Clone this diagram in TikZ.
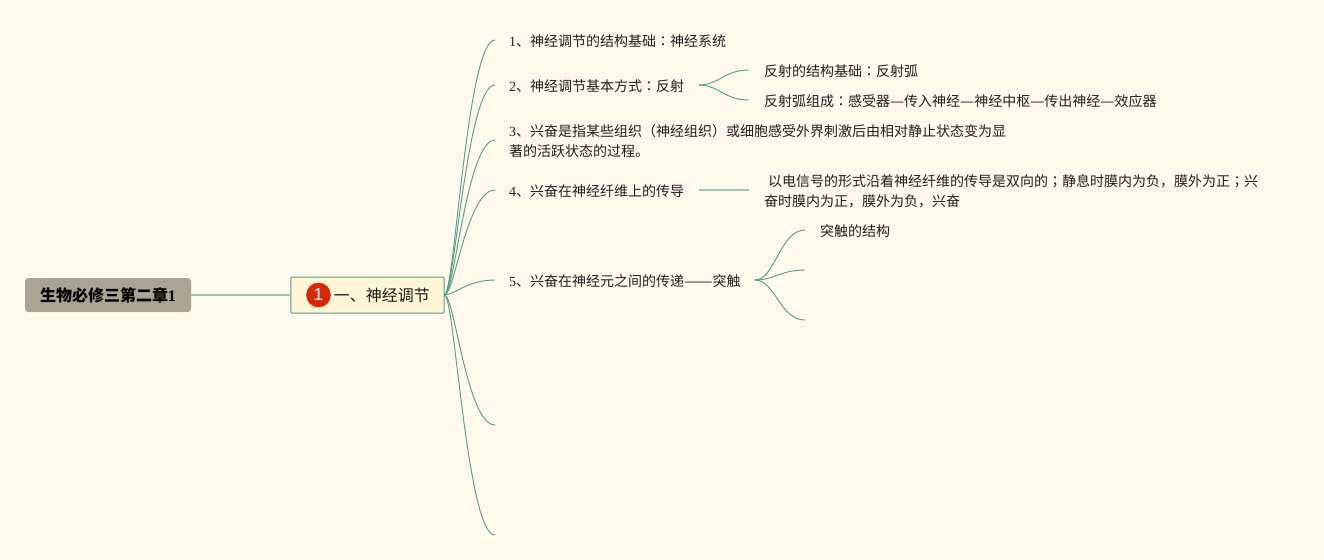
\documentclass[tikz,border=0pt]{standalone}
\usepackage{fontspec}
\usetikzlibrary{calc}
\setmainfont{Liberation Serif}
\newfontfamily\cjk{Noto Sans CJK SC}
\newfontfamily\cjktc{Noto Sans CJK TC}
\newfontfamily\badgefont{Liberation Sans}
\newfontfamily\dashone[FakeStretch=1.13]{Noto Sans CJK SC}
\newfontfamily\dashtwo[FakeStretch=1.22]{Noto Sans CJK SC}
\newcommand{\zc}[1]{{\cjktc #1}}
\newcommand{\dsh}{{\dashone —}}
\newcommand{\dbl}{{\dashtwo ——}}
\definecolor{bgc}{HTML}{FFF9ED}
\definecolor{rootc}{HTML}{A8A595}
\definecolor{topicc}{HTML}{FFF6D5}
\definecolor{linec}{HTML}{5B9A88}
\definecolor{linel}{HTML}{9CC4B0}
\definecolor{badgec}{HTML}{D42A0A}
\tikzset{
  x=0.75pt,y=-0.75pt,
  txt/.style={anchor=west,inner sep=0pt,outer sep=0pt,font=\fontsize{10.5pt}{15pt}\selectfont\cjk,align=left,text=black!88},
  rootbox/.style={draw=none,fill=rootc,rounded corners=2.5pt,inner sep=0pt,minimum width=124.5pt,minimum height=25.5pt,font=\fontsize{12pt}{14pt}\selectfont\bfseries},
  topicbox/.style={draw=linec,line width=0.75pt,fill=topicc,rounded corners=0.75pt,inner sep=0pt,minimum width=115pt,minimum height=27pt},
  conn/.style={draw=linec,line width=0.7pt},
  connl/.style={draw=linel,line width=1.2pt},
  badge/.style={circle,fill=badgec,draw=none,inner sep=0pt,minimum size=18.5pt,text=white,font=\fontsize{13pt}{14pt}\selectfont\badgefont}
}
\begin{document}
\begin{tikzpicture}
\useasboundingbox (0,0) rectangle (1324,560);
\fill[bgc] (0,0) rectangle (1324,560);
% central nodes
\node[rootbox] (root) at (108,295) {{\bfseries\cjk 生物必修三第二章}1};
\node[topicbox] (topic) at (367.5,295) {};
\node[badge] (badge) at (318.5,295) {1};
\node[anchor=west,inner sep=0pt,font=\fontsize{12pt}{14pt}\selectfont\cjk,text=black!90] (topict) at (333.5,295.5) {一、神经调节};
\draw[connl] (root.east) -- (topic.west);
% branch labels
\node[txt] (a1) at (509,41) {{\rmfamily 1}、神经调节的结构基础\zc{：}神经系统};
\node[txt] (a2) at (509,86) {{\rmfamily 2}、神经调节基本方式\zc{：}反射};
\node[txt] (a3) at (509,141) {{\rmfamily 3}、兴奋是指某些组织（神经组织）或细胞感受外界刺激后由相对静止状态变为显\\著的活跃状态的过程。};
\node[txt] (a4) at (509,191) {{\rmfamily 4}、兴奋在神经纤维上的传导};
\node[txt] (a5) at (509,281) {{\rmfamily 5}、兴奋在神经元之间的传递\dbl 突触};
\node[txt] (b1) at (764,71) {反射的结构基础\zc{：}反射弧};
\node[txt] (b2) at (764,101) {反射弧组成\zc{：}感受器\dsh 传入神经\dsh 神经中枢\dsh 传出神经\dsh 效应器};
\node[txt] (c1) at (764,191) {\hspace{3pt}以电信号的形式沿着神经纤维的传导是双向的\zc{；}静息时膜内为负，膜外为正\zc{；}兴\\奋时膜内为正，膜外为负，兴奋};
\node[txt] (d1) at (820,231) {突触的结构};
% connector ends
\coordinate (e1) at (495,40);
\coordinate (e2) at (495,85);
\coordinate (e3) at (495,140);
\coordinate (e4) at (495,190);
\coordinate (e5) at (495,280);
\coordinate (e6) at (495,425);
\coordinate (e7) at (495,535);
\coordinate (s2) at (699,85);
\coordinate (s2a) at (749,70);
\coordinate (s2b) at (749,100);
\coordinate (s4) at (699,190);
\coordinate (s4a) at (749,190);
\coordinate (s5) at (755,280);
\coordinate (s5a) at (805,230);
\coordinate (s5b) at (805,270);
\coordinate (s5c) at (805,320);
\coordinate (hub) at (444.5,295);
% curved connectors from the topic
\foreach \e in {e1,e2,e3,e4,e5,e6,e7}{
  \draw[conn] (hub) .. controls ($(hub)+(10,0)$) and ($(\e)+(-28,0)$) .. (\e);
}
\draw[conn] (s2) .. controls ($(s2)+(20,0)$) and ($(s2a)+(-25,0)$) .. (s2a);
\draw[conn] (s2) .. controls ($(s2)+(20,0)$) and ($(s2b)+(-25,0)$) .. (s2b);
\draw[connl] (s4) -- (s4a);
\draw[conn] (s5) .. controls ($(s5)+(20,0)$) and ($(s5a)+(-25,0)$) .. (s5a);
\draw[conn] (s5) .. controls ($(s5)+(20,0)$) and ($(s5b)+(-25,0)$) .. (s5b);
\draw[conn] (s5) .. controls ($(s5)+(20,0)$) and ($(s5c)+(-25,0)$) .. (s5c);
\end{tikzpicture}
\end{document}
